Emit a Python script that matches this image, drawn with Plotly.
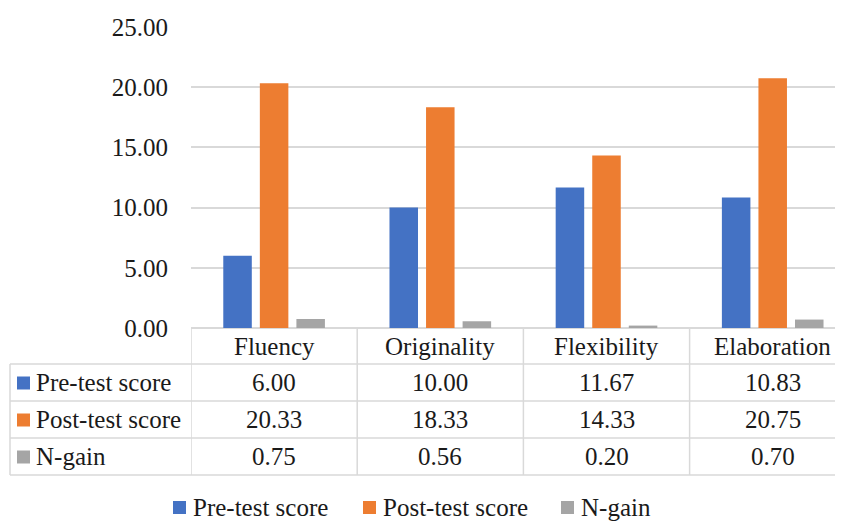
import plotly.graph_objects as go

categories = ["Fluency", "Originality", "Flexibility", "Elaboration"]
series_names = ["Pre-test score", "Post-test score", "N-gain"]
pre_test = [6.00, 10.00, 11.67, 10.83]
post_test = [20.33, 18.33, 14.33, 20.75]
n_gain = [0.75, 0.56, 0.20, 0.70]
y_ticks = [0, 5, 10, 15, 20, 25]

colors = ["#4472C4", "#ED7D31", "#A5A5A5"]
series_values = [pre_test, post_test, n_gain]

# page offset of the plot div (browser default body margin)
OFF = 8
W, H = 843 - OFF, 522 - OFF
L, T = 191 - OFF, 27 - OFF
BOTTOM_PX = 328 - OFF
R = 0
B = H - BOTTOM_PX
PLOT_W = W - L - R
PLOT_H = H - T - B
FONT = "Liberation Serif, DejaVu Serif, Noto Serif, serif"
FS = 25
TXT = "#1a1a1a"
LINE = "#D9D9D9"


def py(p):
    """reference pixel y -> paper y"""
    return (H - B - (p - OFF)) / PLOT_H


def px(p):
    """reference pixel x -> paper x"""
    return ((p - OFF) - L) / PLOT_W


fig = go.Figure()
for name, vals, col in zip(series_names, series_values, colors):
    fig.add_bar(x=categories, y=vals, name=name, marker=dict(color=col, line=dict(width=0)))

# visible span of categories (the right edge of the chart is cropped)
col_px = 166.2
x_max = -0.5 + PLOT_W / col_px

fig.update_layout(
    width=W, height=H,
    margin=dict(l=L, r=R, t=T, b=B, autoexpand=False),
    paper_bgcolor="white", plot_bgcolor="white",
    barmode="group", bargap=0.34, bargroupgap=0.22,
    font=dict(family=FONT, size=FS, color=TXT),
    showlegend=False,
    xaxis=dict(range=[-0.5, x_max], showticklabels=False, showgrid=False,
               zeroline=False, showline=False, ticks=""),
    yaxis=dict(range=[0, 25], tickvals=y_ticks, tickformat=".2f", showgrid=True,
               gridcolor=LINE, gridwidth=1.5, zeroline=True, zerolinecolor=LINE,
               zerolinewidth=1.5, showline=False, ticks="", ticklabelstandoff=22,
               tickfont=dict(family=FONT, size=FS, color=TXT)),
)

# ----- data table under the plot -----
row_edges = [328, 364, 401, 438, 475]
shapes = []
lw = 1.5
for r in row_edges[1:]:
    shapes.append(dict(type="line", xref="paper", yref="paper", x0=px(10), x1=1.0,
                       y0=py(r), y1=py(r), line=dict(color=LINE, width=lw)))
shapes.append(dict(type="line", xref="paper", yref="paper", x0=px(10), x1=px(10),
                   y0=py(row_edges[1]), y1=py(row_edges[-1]), line=dict(color=LINE, width=lw)))
for i in range(len(categories) + 1):
    shapes.append(dict(type="line", xref="x", yref="paper", x0=i - 0.5, x1=i - 0.5,
                       y0=py(row_edges[0]), y1=py(row_edges[-1]), line=dict(color=LINE, width=lw)))

annotations = []
hdr_y = py((row_edges[0] + row_edges[1]) / 2)
for i, c in enumerate(categories):
    annotations.append(dict(x=i, xref="x", y=hdr_y, yref="paper", text=c, showarrow=False,
                            xanchor="center", yanchor="middle",
                            font=dict(family=FONT, size=FS, color=TXT)))

for k, (name, vals, col) in enumerate(zip(series_names, series_values, colors)):
    top, bot = row_edges[k + 1], row_edges[k + 2]
    cy = (top + bot) / 2
    shapes.append(dict(type="rect", xref="paper", yref="paper", x0=px(17), x1=px(30),
                       y0=py(cy - 6), y1=py(cy + 7), fillcolor=col, line=dict(width=0)))
    annotations.append(dict(x=px(34), xref="paper", y=py(cy), yref="paper", text=name,
                            showarrow=False, xanchor="left", yanchor="middle",
                            font=dict(family=FONT, size=FS, color=TXT)))
    for i, v in enumerate(vals):
        annotations.append(dict(x=i, xref="x", y=py(cy), yref="paper", text=f"{v:.2f}",
                                showarrow=False, xanchor="center", yanchor="middle",
                                font=dict(family=FONT, size=FS, color=TXT)))

# ----- legend below the table -----
legend_y = 507
legend_sq_x = [173, 363, 561]
for name, col, sx in zip(series_names, colors, legend_sq_x):
    shapes.append(dict(type="rect", xref="paper", yref="paper", x0=px(sx), x1=px(sx + 13),
                       y0=py(legend_y - 6), y1=py(legend_y + 7), fillcolor=col, line=dict(width=0)))
    annotations.append(dict(x=px(sx + 18), xref="paper", y=py(legend_y), yref="paper", text=name,
                            showarrow=False, xanchor="left", yanchor="middle",
                            font=dict(family=FONT, size=FS, color=TXT)))

fig.update_layout(shapes=shapes, annotations=annotations)
fig.write_html("out.html")
